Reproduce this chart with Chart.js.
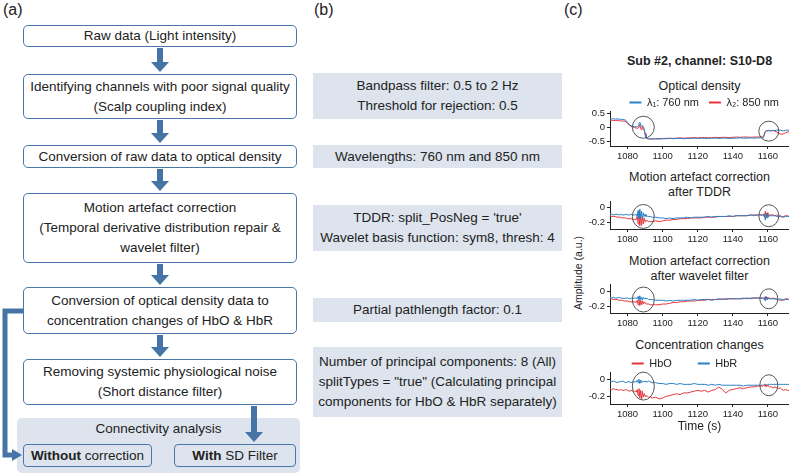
<!DOCTYPE html>
<html>
<head>
<meta charset="utf-8">
<script src="https://cdn.jsdelivr.net/npm/chart.js@4.4.1/dist/chart.umd.min.js"></script>
<style>
  html, body { margin: 0; padding: 0; background: #fff; }
  body { width: 789px; height: 473px; position: relative; overflow: hidden;
         font-family: "Liberation Sans", Arial, sans-serif; color: #222; }
  .abs { position: absolute; }
  .plabel { font-size: 16px; }
  .fbox { position: absolute; border: 1.3px solid #4a77a9; border-radius: 5px; box-sizing: border-box;
          display: flex; align-items: center; justify-content: center; text-align: center;
          font-size: 13.5px; line-height: 20px; background: #fff; }
  .gbox { position: absolute; background: #dde4ed; box-sizing: border-box;
          display: flex; align-items: center; justify-content: center; text-align: center;
          font-size: 13.5px; line-height: 20px; }
  .ctitle { position: absolute; left: 600px; width: 199px; text-align: center; font-size: 12.5px; line-height: 15px; }
  canvas { position: absolute; }
</style>
</head>
<body>

<!-- (a) processing flow -->
<div class="abs plabel" style="left:3px; top:1px;">(a)</div>
<div class="fbox" style="left:23px; top:25px; width:274px; height:22px;">Raw data (Light intensity)</div>
<div class="fbox" style="left:23px; top:74px; width:274px; height:45px;">Identifying channels with poor signal quality<br>(Scalp coupling index)</div>
<div class="fbox" style="left:23px; top:145px; width:274px; height:23px;">Conversion of raw data to optical density</div>
<div class="fbox" style="left:23px; top:193px; width:274px; height:70px;">Motion artefact correction<br>(Temporal derivative distribution repair &amp;<br>wavelet filter)</div>
<div class="fbox" style="left:23px; top:287px; width:274px; height:47px;">Conversion of optical density data to<br>concentration changes of HbO &amp; HbR</div>
<div class="fbox" style="left:23px; top:359px; width:274px; height:46px;">Removing systemic physiological noise<br>(Short distance filter)</div>
<div class="abs" style="left:17px; top:418px; width:283px; height:55px; background:#dde4ed; border-radius:5px;"></div>
<div class="abs" style="left:17px; top:420px; width:283px; text-align:center; font-size:13.5px; line-height:18px;">Connectivity analysis</div>
<div class="fbox" style="left:23px; top:444px; width:129px; height:23px; background:transparent; border-radius:4px;"><b>Without</b>&nbsp;correction</div>
<div class="fbox" style="left:174px; top:444px; width:122px; height:23px; background:transparent; border-radius:4px;"><b>With</b>&nbsp;SD Filter</div>

<svg class="abs" style="left:0; top:0;" width="320" height="473">
  <g fill="#4674a6">
    <polygon points="157,48 163,48 163,62 169,62 160,72 151,62 157,62"/>
    <polygon points="157,120 163,120 163,133 169,133 160,143 151,133 157,133"/>
    <polygon points="157,169 163,169 163,181 169,181 160,191 151,181 157,181"/>
    <polygon points="157,264 163,264 163,275 169,275 160,285 151,275 157,275"/>
    <polygon points="157,335 163,335 163,347 169,347 160,357 151,347 157,347"/>
    <polygon points="251,406 257,406 257,432 263,432 254,442 245,432 251,432"/>
    <polygon points="12,449 22,455 12,461"/>
  </g>
  <polyline points="23,311 5,311 5,455 13,455" fill="none" stroke="#4674a6" stroke-width="5"/>
</svg>

<!-- (b) parameters -->
<div class="abs plabel" style="left:314px; top:1px;">(b)</div>
<div class="gbox" style="left:313px; top:73px; width:249px; height:46px;">Bandpass filter: 0.5 to 2 Hz<br>Threshold for rejection: 0.5</div>
<div class="gbox" style="left:313px; top:145px; width:249px; height:23px;">Wavelengths: 760 nm and 850 nm</div>
<div class="gbox" style="left:313px; top:205px; width:249px; height:46px;">TDDR: split_PosNeg = 'true'<br>Wavelet basis function: sym8, thresh: 4</div>
<div class="gbox" style="left:313px; top:298px; width:249px; height:24px;">Partial pathlength factor: 0.1</div>
<div class="gbox" style="left:313px; top:347px; width:249px; height:70px;">Number of principal components: 8 (All)<br>splitTypes = "true" (Calculating principal<br>components for HbO &amp; HbR separately)</div>

<!-- (c) example channel -->
<div class="abs plabel" style="left:564px; top:1px;">(c)</div>
<div class="ctitle" style="top:54px; font-weight:bold; font-size:12.5px;">Sub #2, channel: S10-D8</div>
<div class="ctitle" style="top:79px;">Optical density</div>
<div class="ctitle" style="top:170px;">Motion artefact correction<br>after TDDR</div>
<div class="ctitle" style="top:254px;">Motion artefact correction<br>after wavelet filter</div>
<div class="ctitle" style="top:338px;">Concentration changes</div>
<div class="abs" style="left:538px; top:266px; width:80px; text-align:center; font-size:10.5px; line-height:14px; transform:rotate(-90deg);">Amplitude (a.u.)</div>

<canvas id="odChart" width="209" height="77" style="left:580px; top:87px;"></canvas>
<canvas id="tddrChart" width="209" height="53" style="left:580px; top:194px;"></canvas>
<canvas id="waveChart" width="209" height="54" style="left:580px; top:277px;"></canvas>
<canvas id="concChart" width="209" height="102" style="left:580px; top:332px;"></canvas>

<script>
// time axis (s): 1 s steps, 0.5 s around the two motion artefacts, 2 s on the quiet stretch
var TIME = [
  1070, 1071, 1072, 1073, 1074, 1075, 1076, 1077, 1078, 1079, 1080, 1081, 1082, 1083, 1084,
  1085, 1085.5, 1086, 1086.5, 1087, 1087.5, 1088, 1088.5, 1089, 1089.5, 1090, 1090.5, 1091, 1091.5, 1092,
  1093, 1094, 1096, 1098, 1100, 1102, 1104, 1106, 1108, 1110, 1112, 1114, 1116, 1118, 1120, 1122,
  1124, 1126, 1128, 1130, 1132, 1134, 1136, 1138, 1140, 1142, 1144, 1146, 1148, 1150, 1152, 1154, 1156,
  1157, 1157.5, 1158, 1158.5, 1159, 1159.5, 1160, 1160.5, 1161,
  1162, 1163, 1164, 1165, 1166, 1167, 1168, 1169, 1170, 1171, 1172
];

var TICKS_X = [1080, 1100, 1120, 1140, 1160];
var TICKS_OD = [-0.5, 0, 0.5];
var TICKS_AMP = [-0.2, 0];

// optical density
var OD_760 = [
  0.31, 0.30, 0.30, 0.29, 0.30, 0.29, 0.28, 0.28, 0.27, 0.25, 0.17, 0.09, 0.05, 0.03, 0.02,
  0.01, 0.02, 0.05, 0.12, 0.18, 0.08, 0.03, 0.06, 0.02, -0.05, -0.28, -0.38, -0.40, -0.41, -0.41,
  -0.41, -0.42, -0.41, -0.42, -0.41, -0.41, -0.40, -0.41, -0.40, -0.40, -0.41, -0.40, -0.40, -0.39, -0.40, -0.39,
  -0.40, -0.40, -0.39, -0.39, -0.40, -0.39, -0.39, -0.40, -0.39, -0.39, -0.38, -0.39, -0.39, -0.38, -0.39, -0.38, -0.38,
  -0.38, -0.36, -0.25, -0.17, -0.14, -0.13, -0.12, -0.13, -0.12,
  -0.12, -0.11, -0.12, -0.10, -0.11, -0.10, -0.12, -0.13, -0.11, -0.10, -0.11
];
var OD_850 = [
  0.25, 0.25, 0.24, 0.24, 0.25, 0.23, 0.23, 0.22, 0.22, 0.20, 0.13, 0.07, 0.03, 0.01, -0.01,
  -0.03, -0.04, -0.02, 0.04, 0.09, -0.05, -0.10, 0.02, -0.08, -0.12, -0.22, -0.36, -0.40, -0.41, -0.42,
  -0.42, -0.42, -0.41, -0.41, -0.40, -0.40, -0.39, -0.40, -0.39, -0.38, -0.39, -0.38, -0.38, -0.37, -0.38, -0.37,
  -0.37, -0.38, -0.37, -0.36, -0.37, -0.36, -0.36, -0.37, -0.36, -0.35, -0.36, -0.35, -0.35, -0.36, -0.35, -0.35, -0.34,
  -0.35, -0.33, -0.22, -0.15, -0.13, -0.12, -0.12, -0.11, -0.12,
  -0.13, -0.12, -0.14, -0.17, -0.21, -0.24, -0.25, -0.23, -0.20, -0.17, -0.16
];

// after TDDR
var TDDR_760 = [
  -0.09, -0.09, -0.10, -0.09, -0.09, -0.10, -0.09, -0.10, -0.10, -0.09, -0.10, -0.10, -0.09, -0.10, -0.10,
  -0.09, -0.12, -0.04, -0.15, -0.02, -0.13, -0.05, -0.16, -0.07, -0.12, -0.09, -0.12, -0.11, -0.12, -0.12,
  -0.12, -0.13, -0.13, -0.14, -0.14, -0.15, -0.14, -0.15, -0.14, -0.14, -0.14, -0.13, -0.14, -0.13, -0.13, -0.13,
  -0.13, -0.12, -0.13, -0.12, -0.12, -0.12, -0.12, -0.11, -0.12, -0.11, -0.11, -0.11, -0.11, -0.10, -0.11, -0.10, -0.10,
  -0.10, -0.11, -0.09, -0.17, -0.08, -0.14, -0.10, -0.12, -0.11,
  -0.11, -0.11, -0.11, -0.12, -0.12, -0.11, -0.12, -0.13, -0.12, -0.12, -0.12
];
var TDDR_850 = [
  -0.11, -0.12, -0.12, -0.12, -0.13, -0.13, -0.13, -0.14, -0.14, -0.14, -0.15, -0.15, -0.15, -0.16, -0.16,
  -0.16, -0.12, -0.22, -0.08, -0.25, -0.10, -0.24, -0.12, -0.22, -0.14, -0.19, -0.17, -0.18, -0.18, -0.19,
  -0.19, -0.19, -0.18, -0.19, -0.18, -0.17, -0.17, -0.16, -0.16, -0.15, -0.15, -0.15, -0.14, -0.14, -0.14, -0.14,
  -0.13, -0.13, -0.13, -0.13, -0.12, -0.12, -0.12, -0.12, -0.12, -0.11, -0.11, -0.11, -0.11, -0.10, -0.10, -0.10, -0.10,
  -0.10, -0.09, -0.13, -0.05, -0.14, -0.07, -0.12, -0.10, -0.10,
  -0.10, -0.10, -0.11, -0.10, -0.11, -0.12, -0.13, -0.12, -0.11, -0.11, -0.12
];

// after wavelet filter
var WAVE_760 = [
  -0.08, -0.09, -0.08, -0.09, -0.09, -0.08, -0.09, -0.09, -0.10, -0.09, -0.09, -0.10, -0.09, -0.10, -0.09,
  -0.09, -0.10, -0.07, -0.11, -0.06, -0.11, -0.08, -0.12, -0.08, -0.10, -0.09, -0.10, -0.10, -0.10, -0.11,
  -0.11, -0.11, -0.12, -0.12, -0.12, -0.13, -0.12, -0.13, -0.12, -0.12, -0.12, -0.12, -0.12, -0.11, -0.12, -0.11,
  -0.11, -0.11, -0.12, -0.11, -0.10, -0.11, -0.10, -0.10, -0.10, -0.10, -0.10, -0.09, -0.10, -0.09, -0.09, -0.09, -0.09,
  -0.09, -0.10, -0.08, -0.13, -0.07, -0.11, -0.09, -0.10, -0.10,
  -0.10, -0.10, -0.10, -0.11, -0.11, -0.10, -0.11, -0.12, -0.11, -0.11, -0.11
];
var WAVE_850 = [
  -0.10, -0.10, -0.11, -0.11, -0.11, -0.12, -0.12, -0.12, -0.13, -0.13, -0.13, -0.14, -0.14, -0.14, -0.14,
  -0.15, -0.12, -0.18, -0.11, -0.19, -0.12, -0.18, -0.13, -0.17, -0.14, -0.16, -0.16, -0.17, -0.17, -0.17,
  -0.18, -0.18, -0.18, -0.18, -0.17, -0.17, -0.16, -0.15, -0.15, -0.14, -0.14, -0.13, -0.13, -0.13, -0.12, -0.12,
  -0.12, -0.11, -0.11, -0.11, -0.11, -0.10, -0.11, -0.10, -0.10, -0.10, -0.10, -0.10, -0.09, -0.10, -0.09, -0.09, -0.09,
  -0.09, -0.09, -0.11, -0.07, -0.11, -0.08, -0.10, -0.09, -0.09,
  -0.10, -0.09, -0.10, -0.10, -0.11, -0.12, -0.12, -0.11, -0.10, -0.10, -0.11
];

// concentration changes
var HBO = [
  -0.11, -0.12, -0.11, -0.12, -0.12, -0.13, -0.12, -0.13, -0.13, -0.12, -0.13, -0.14, -0.13, -0.14, -0.14,
  -0.15, -0.12, -0.19, -0.11, -0.22, -0.13, -0.24, -0.14, -0.21, -0.17, -0.20, -0.19, -0.20, -0.20, -0.21,
  -0.21, -0.22, -0.21, -0.23, -0.22, -0.20, -0.19, -0.18, -0.17, -0.18, -0.16, -0.16, -0.15, -0.14, -0.13, -0.14,
  -0.13, -0.15, -0.13, -0.12, -0.09, -0.12, -0.16, -0.13, -0.12, -0.11, -0.10, -0.11, -0.10, -0.09, -0.09, -0.08, -0.08,
  -0.08, -0.07, -0.08, -0.06, -0.09, -0.07, -0.08, -0.08, -0.09,
  -0.09, -0.10, -0.09, -0.10, -0.11, -0.10, -0.12, -0.13, -0.12, -0.13, -0.13
];
var HBR = [
  -0.03, -0.03, -0.02, -0.03, -0.04, -0.03, -0.03, -0.02, -0.03, -0.04, -0.03, -0.03, -0.04, -0.03, -0.03,
  -0.03, -0.01, -0.04, 0.00, -0.05, -0.01, -0.04, -0.02, -0.03, -0.03, -0.02, -0.03, -0.03, -0.03, -0.02,
  -0.03, -0.04, -0.04, -0.05, -0.05, -0.06, -0.05, -0.05, -0.06, -0.05, -0.06, -0.06, -0.06, -0.05, -0.06, -0.06,
  -0.06, -0.07, -0.06, -0.07, -0.06, -0.07, -0.07, -0.07, -0.07, -0.07, -0.07, -0.08, -0.07, -0.07, -0.07, -0.07, -0.07,
  -0.07, -0.07, -0.06, -0.08, -0.06, -0.07, -0.06, -0.06, -0.06,
  -0.06, -0.06, -0.06, -0.06, -0.06, -0.06, -0.06, -0.06, -0.06, -0.06, -0.06
];

// highlighted artefacts (time, amplitude) per panel
var MARK_T = [1089, 1160.5];
var MARK_OD = [0.0, -0.14];
var MARK_TDDR = [-0.12, -0.11];
var MARK_WAVE = [-0.11, -0.10];
var MARK_CONC = [-0.08, -0.07];

var BLUE = '#2a80c4';
var RED = '#e5353c';
var INK = '#222';
var FONT = '"Liberation Sans", Arial, sans-serif';

// grey rings round the two motion artefacts
var markPlugin = {
  id: 'marks',
  afterDatasetsDraw: function (chart, args, opts) {
    if (!opts.y) return;
    var ctx = chart.ctx, xs = chart.scales.x, ys = chart.scales.y;
    ctx.save();
    ctx.strokeStyle = '#555';
    ctx.lineWidth = 1;
    MARK_T.forEach(function (t, i) {
      ctx.beginPath();
      ctx.ellipse(xs.getPixelForValue(t), ys.getPixelForValue(opts.y[i]), opts.rx[i], opts.ry[i], 0, 0, Math.PI * 2);
      ctx.stroke();
    });
    ctx.restore();
  }
};

function series(label, values, color) {
  return {
    label: label,
    data: TIME.map(function (t, i) { return { x: t, y: values[i] }; }),
    borderColor: color,
    backgroundColor: color,
    borderWidth: 1,
    pointRadius: 0,
    tension: 0
  };
}

// legend marker: plain short bar, no outline
function legendItems(chart) {
  var items = Chart.defaults.plugins.legend.labels.generateLabels(chart);
  items.forEach(function (it) { it.strokeStyle = 'rgba(0,0,0,0)'; });
  return items;
}

function makeChart(id, o) {
  return new Chart(document.getElementById(id), {
    type: 'line',
    data: { datasets: o.datasets },
    plugins: [markPlugin],
    options: {
      responsive: false,
      animation: false,
      devicePixelRatio: 1,
      layout: { padding: { top: o.padTop || 0, right: 0, left: 0, bottom: 0 } },
      plugins: {
        legend: o.legend ? {
          display: true,
          align: o.legend.align,
          maxHeight: o.legend.maxHeight,
          labels: {
            boxWidth: 12, boxHeight: 2, padding: o.legend.padding, color: INK,
            font: { size: 11, family: FONT }, generateLabels: legendItems
          }
        } : { display: false },
        tooltip: { enabled: false },
        marks: o.marks
      },
      scales: {
        x: {
          type: 'linear',
          min: 1070,
          max: 1172,
          afterBuildTicks: function (s) { s.ticks = TICKS_X.map(function (v) { return { value: v }; }); },
          afterFit: function (s) { s.height = o.xHeight; },
          grid: { drawOnChartArea: false, tickLength: 3, color: INK },
          border: { color: INK, width: 1 },
          ticks: {
            color: INK, font: { size: 9.5, family: FONT }, padding: 2, maxRotation: 0, autoSkip: false,
            callback: function (v) { return String(v); }
          },
          title: o.xTitle ? { display: true, text: o.xTitle, color: INK, font: { size: 12, family: FONT }, padding: 0 } : { display: false }
        },
        y: {
          min: o.yMin,
          max: o.yMax,
          afterBuildTicks: function (s) { s.ticks = o.yTicks.map(function (v) { return { value: v }; }); },
          afterFit: function (s) { s.width = 30; },
          grid: { drawOnChartArea: false, tickLength: 3, color: INK },
          border: { color: INK, width: 1 },
          ticks: {
            color: INK, font: { size: 9.5, family: FONT }, padding: 2, autoSkip: false,
            callback: function (v) { return v === 0 ? '0' : String(v); }
          }
        }
      }
    }
  });
}

makeChart('odChart', {
  datasets: [series('λ₁: 760 nm', OD_760, BLUE), series('λ₂: 850 nm', OD_850, RED)],
  legend: { align: 'end', padding: 10, maxHeight: 24 },
  xHeight: 18, yMin: -0.67, yMax: 0.58, yTicks: TICKS_OD,
  marks: { y: MARK_OD, rx: [11, 10], ry: [11, 10] }
});

makeChart('tddrChart', {
  datasets: [series('λ₁: 760 nm', TDDR_760, BLUE), series('λ₂: 850 nm', TDDR_850, RED)],
  padTop: 6, xHeight: 18, yMin: -0.29, yMax: 0.08, yTicks: TICKS_AMP,
  marks: { y: MARK_TDDR, rx: [11, 10], ry: [12, 11] }
});

makeChart('waveChart', {
  datasets: [series('λ₁: 760 nm', WAVE_760, BLUE), series('λ₂: 850 nm', WAVE_850, RED)],
  padTop: 6, xHeight: 18, yMin: -0.29, yMax: 0.088, yTicks: TICKS_AMP,
  marks: { y: MARK_WAVE, rx: [11, 9], ry: [12.5, 10] }
});

makeChart('concChart', {
  datasets: [series('HbO', HBO, RED), series('HbR', HBR, BLUE)],
  legend: { align: 'center', padding: 26, maxHeight: 40 },
  xHeight: 30, xTitle: 'Time (s)', yMin: -0.29, yMax: 0.085, yTicks: TICKS_AMP,
  marks: { y: MARK_CONC, rx: [11, 9], ry: [14, 10.5] }
});
</script>
</body>
</html>
